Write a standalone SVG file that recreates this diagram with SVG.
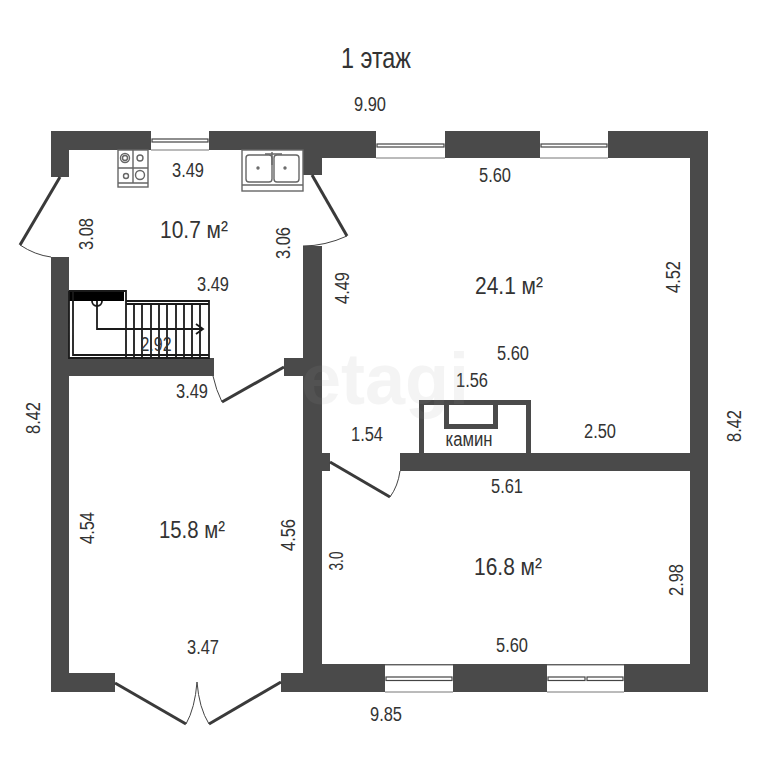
<svg xmlns="http://www.w3.org/2000/svg" width="768" height="768" viewBox="0 0 768 768">
<style>
text{font-family:"Liberation Sans",sans-serif;font-size:20px;fill:#333;text-anchor:middle}
.big{font-size:24px}
.wall{fill:#4a4a4a}
.door{fill:none;stroke:#3a3a3a;stroke-width:3}
.arc{fill:none;stroke:#444;stroke-width:1}
.win{fill:#fff}
.edge{stroke:#777;stroke-width:1;fill:none}
.bar{fill:#fff;stroke:#444;stroke-width:1.2}
.st{fill:none;stroke:#1a1a1a;stroke-width:1.8}
.k{fill:none;stroke:#666;stroke-width:1.4}
</style>
<rect width="768" height="768" fill="#fff"/>
<g id="walls">
<path class="wall" d="M51 131H708V692H281V673H303V471H322V664H690V471H400V453H690V158H322V175H303V150H69V177H51Z"/>
<path class="wall" d="M51 257H69V358H214V376H69V673H115V692H51Z"/>
<path class="wall" d="M303 246H322V453H330V471H303V376H284V358H303Z"/>
</g>
<g id="windows">
<rect class="win" x="151" y="131" width="58" height="19"/><path class="edge" d="M151 150H209"/><rect class="bar" x="152" y="139" width="56" height="3"/>
<rect class="win" x="376" y="131" width="69" height="27"/><path class="edge" d="M376 158H445"/><rect class="bar" x="377" y="144" width="67" height="3"/>
<rect class="win" x="540" y="131" width="68" height="27"/><path class="edge" d="M540 158H608"/><rect class="bar" x="541" y="144" width="66" height="3"/>
<rect class="win" x="385" y="665" width="68" height="27"/><path class="edge" d="M385 665H453M385 692H453"/><rect class="bar" x="386" y="677" width="66" height="3.500"/>
<rect class="win" x="547" y="665" width="77" height="27"/><path class="edge" d="M547 665H624M547 692H624"/><rect class="bar" x="548" y="677" width="37" height="3.500"/><rect class="bar" x="587" y="677" width="36" height="3.500"/>
</g>
<g id="connectors">
<path class="door" d="M60 177L20 245"/><path class="arc" d="M20 245Q35 255 51 257"/>
<path class="door" d="M312 175L347 236"/><path class="arc" d="M347 236Q325 246 303 246"/>
<path class="door" d="M284 367L222 402"/><path class="arc" d="M222 402Q216 390 213 376"/>
<path class="door" d="M330 462L390 497"/><path class="arc" d="M390 497Q398 486 400 471"/>
<path class="door" d="M115 683L186 724"/><path class="arc" d="M186 724Q195 708 197 682"/>
<path class="door" d="M281 682L209 724"/><path class="arc" d="M209 724Q199 708 197 682"/>
</g>
<g id="fireplace" fill="none" stroke="#4a4a4a" stroke-width="5">
<path d="M421.500 453V402.500H528.500V453"/>
<path d="M446.500 402.500V426.500H495.500V402.500"/>
<text x="469" y="446" textLength="47" lengthAdjust="spacingAndGlyphs" stroke="none">камин</text>
</g>
<g id="stove">
<rect class="k" x="118" y="150" width="30" height="37"/><path class="k" d="M133 150V183M118 168H148M118 183H148"/>
<circle class="k" cx="125" cy="158" r="4.500"/><circle class="k" cx="125" cy="158" r="2.500"/><circle class="k" cx="140" cy="158" r="3"/><circle class="k" cx="126" cy="176" r="2.500"/><circle class="k" cx="140" cy="175" r="4.500"/>
</g>
<g id="sink">
<rect class="k" x="242" y="150" width="61" height="41"/><path class="k" d="M242 185H303"/>
<rect class="k" x="246" y="155" width="26" height="27" rx="3"/><rect class="k" x="274" y="155" width="25" height="27" rx="3"/>
<path class="k" d="M265 154H282M272 152V165"/><circle class="k" cx="258" cy="168" r="1"/><circle class="k" cx="285" cy="168" r="1"/>
</g>
<g id="stairs">
<rect x="69" y="291" width="55" height="10" fill="#000"/>
<path class="st" d="M69 291H126V301H209V358H69V291M73 291V355H209M126 301V358M134 304V358M142 304V358M151 304V358M159 304V358M167 304V358M176 304V358M184 304V358M192 304V358M200 304V358M126 304H209M97 301V329H202M196 324L203 329L196 334"/>
<path class="st" d="M92 301a5 5 0 0 0 10 0"/>
</g>
<g id="labels">
<text x="376" y="68" textLength="70" lengthAdjust="spacingAndGlyphs" style="font-size:29px">1 этаж</text>
<text x="370" y="111" textLength="32" lengthAdjust="spacingAndGlyphs">9.90</text>
<text x="188" y="177" textLength="32" lengthAdjust="spacingAndGlyphs">3.49</text>
<text x="495" y="182" textLength="32" lengthAdjust="spacingAndGlyphs">5.60</text>
<text x="194" y="238" class="big" textLength="68" lengthAdjust="spacingAndGlyphs">10.7 м²</text>
<text x="509" y="294" class="big" textLength="68" lengthAdjust="spacingAndGlyphs">24.1 м²</text>
<text x="213" y="291" textLength="32" lengthAdjust="spacingAndGlyphs">3.49</text>
<text x="156" y="351" textLength="31" lengthAdjust="spacingAndGlyphs">2.92</text>
<text x="513" y="360" textLength="32" lengthAdjust="spacingAndGlyphs">5.60</text>
<text x="472" y="387" textLength="32" lengthAdjust="spacingAndGlyphs">1.56</text>
<text x="192" y="398" textLength="32" lengthAdjust="spacingAndGlyphs">3.49</text>
<text x="367" y="441" textLength="32" lengthAdjust="spacingAndGlyphs">1.54</text>
<text x="600" y="438" textLength="32" lengthAdjust="spacingAndGlyphs">2.50</text>
<text x="507" y="493" textLength="32" lengthAdjust="spacingAndGlyphs">5.61</text>
<text x="192" y="538" class="big" textLength="66" lengthAdjust="spacingAndGlyphs">15.8 м²</text>
<text x="508" y="575" class="big" textLength="68" lengthAdjust="spacingAndGlyphs">16.8 м²</text>
<text x="203" y="654" textLength="32" lengthAdjust="spacingAndGlyphs">3.47</text>
<text x="512" y="652" textLength="32" lengthAdjust="spacingAndGlyphs">5.60</text>
<text x="386" y="721" textLength="32" lengthAdjust="spacingAndGlyphs">9.85</text>
<text transform="translate(93 234) rotate(-90)" textLength="32" lengthAdjust="spacingAndGlyphs">3.08</text>
<text transform="translate(290 243) rotate(-90)" textLength="32" lengthAdjust="spacingAndGlyphs">3.06</text>
<text transform="translate(349 288) rotate(-90)" textLength="32" lengthAdjust="spacingAndGlyphs">4.49</text>
<text transform="translate(680 277) rotate(-90)" textLength="32" lengthAdjust="spacingAndGlyphs">4.52</text>
<text transform="translate(40 418) rotate(-90)" textLength="32" lengthAdjust="spacingAndGlyphs">8.42</text>
<text transform="translate(741 426) rotate(-90)" textLength="32" lengthAdjust="spacingAndGlyphs">8.42</text>
<text transform="translate(94 528) rotate(-90)" textLength="32" lengthAdjust="spacingAndGlyphs">4.54</text>
<text transform="translate(295 535) rotate(-90)" textLength="32" lengthAdjust="spacingAndGlyphs">4.56</text>
<text transform="translate(343 561) rotate(-90)" textLength="19" lengthAdjust="spacingAndGlyphs">3.0</text>
<text transform="translate(683 580) rotate(-90)" textLength="32" lengthAdjust="spacingAndGlyphs">2.98</text>
</g>
<text id="watermark" x="385" y="404" style="font-size:72px;font-weight:bold;fill:#999;opacity:.1">etagi</text>
</svg>
